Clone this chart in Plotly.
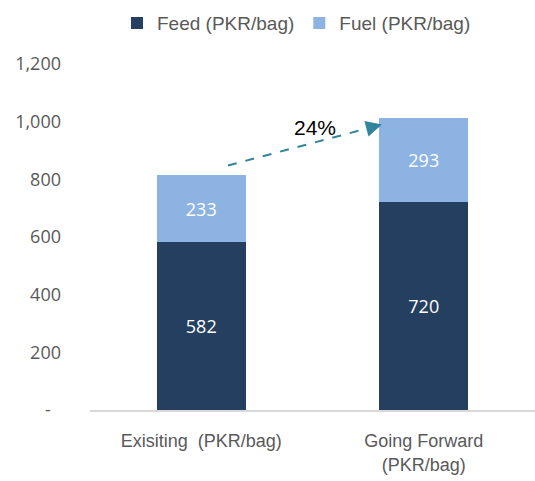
import plotly.graph_objects as go

categories = ["Exisiting  (PKR/bag)", "Going Forward<br>(PKR/bag)"]
feed = [582, 720]
fuel = [233, 293]
growth_label = "24%"
tick_vals = [0, 200, 400, 600, 800, 1000, 1200]
tick_text = ["-\u2007", "200", "400", "600", "800", "1,000", "1,200"]

narrow = "Liberation Sans Narrow, Arial Narrow, Liberation Sans, sans-serif"

fig = go.Figure()
fig.add_bar(x=categories, y=feed, name="Feed (PKR/bag)", marker_color="#243F60",
            marker_line_width=0,
            text=[str(v) for v in feed], textposition="inside", insidetextanchor="middle",
            textfont=dict(color="white", size=18, family="Open Sans"), width=0.4)
fig.add_bar(x=categories, y=fuel, name="Fuel (PKR/bag)", marker_color="#8DB3E2",
            marker_line_width=0,
            text=[str(v) for v in fuel], textposition="inside", insidetextanchor="middle",
            textfont=dict(color="white", size=18, family="Open Sans"), width=0.4)

x0, y0 = 0.120, 848
x1, y1 = 0.812, 990
fig.add_shape(type="line", xref="x", yref="y", x0=x0, y0=y0,
              x1=x0 + (x1 - x0) * 0.93, y1=y0 + (y1 - y0) * 0.93,
              line=dict(color="#31849B", width=2, dash="dash"))
fig.add_annotation(x=x1, y=y1, ax=x0 + (x1 - x0) * 0.9, ay=y0 + (y1 - y0) * 0.9,
                   xref="x", yref="y", axref="x", ayref="y", text="",
                   showarrow=True, arrowhead=2, arrowsize=1.6, arrowwidth=2,
                   arrowcolor="#31849B")
fig.add_annotation(x=0.511, y=980, xref="x", yref="y", text=growth_label, showarrow=False,
                   font=dict(family=narrow, size=21, color="black"))

fig.update_layout(
    barmode="stack",
    width=535, height=481,
    margin=dict(l=90, r=0, t=64, b=71, autoexpand=False),
    plot_bgcolor="white", paper_bgcolor="white",
    showlegend=True,
    legend=dict(orientation="h", x=0.0607, xanchor="left", y=1.118, yanchor="middle",
                font=dict(family=narrow, size=19, color="#595959"), traceorder="normal"),
    bargap=0.6,
)
fig.update_xaxes(showline=True, linecolor="#D9D9D9", linewidth=1.5, ticks="", automargin=False,
                 tickfont=dict(family=narrow, size=18, color="#595959"),
                 ticklabelstandoff=14)
fig.update_yaxes(range=[0, 1200], tickvals=tick_vals, ticktext=tick_text, showgrid=False,
                 zeroline=False, ticks="", automargin=False,
                 tickfont=dict(family="Open Sans", size=18, color="#595959"),
                 ticklabelstandoff=28)

fig.write_html("out.html", config={"displayModeBar": False},
               post_script="document.body.style.margin='0';")
